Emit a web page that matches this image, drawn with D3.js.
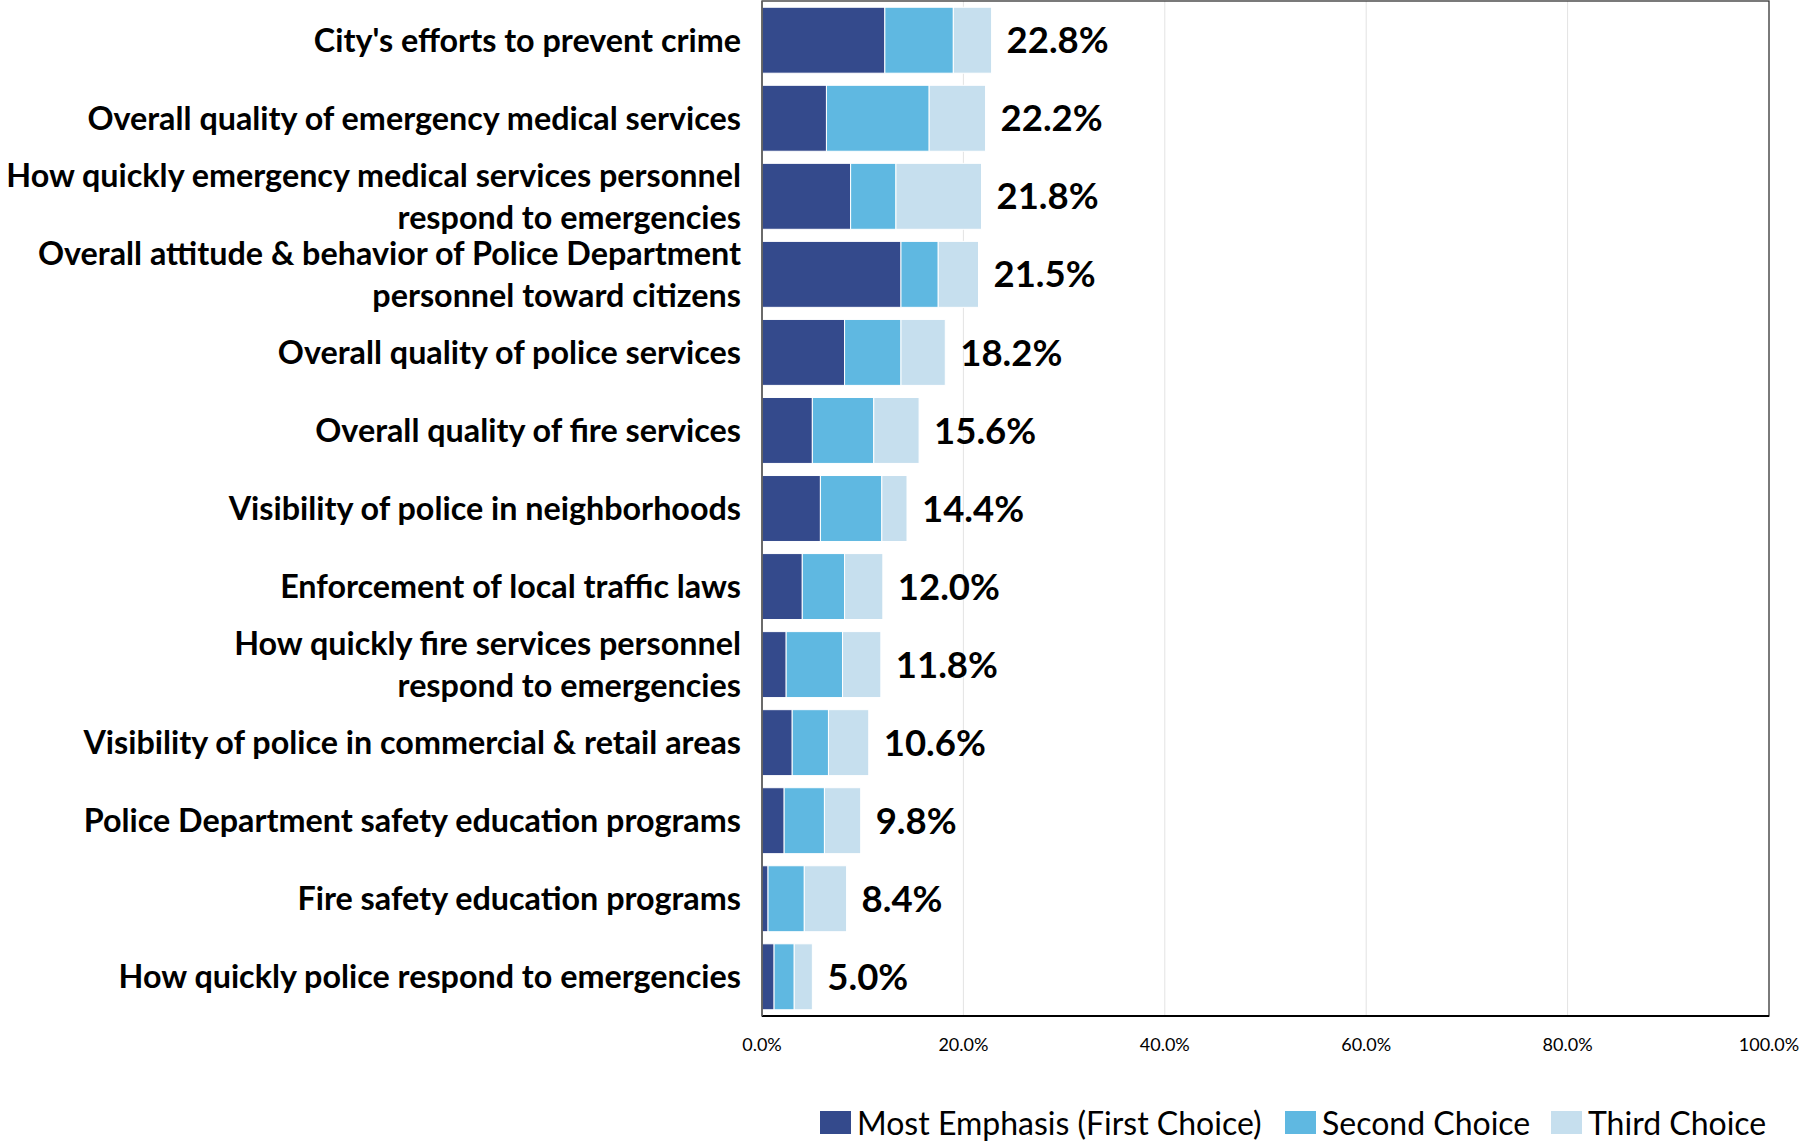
<!DOCTYPE html>
<html lang="en">
  <head>
    <meta charset="utf-8">
    <title>Emphasis on public safety services</title>
    <script src="https://d3js.org/d3.v7.min.js"></script>
    <style type="text/css">
      body { margin: 0; background: #fff; }
      text { font-family: Lato, "Open Sans", sans-serif; fill: #000; }
    </style>
  </head>
  <body>
    <div id="chart"></div>
    <script type="text/javascript">
      // categories, top to bottom
      var categories = [
        ["City's efforts to prevent crime"],
        ["Overall quality of emergency medical services"],
        ["How quickly emergency medical services personnel", "respond to emergencies"],
        ["Overall attitude & behavior of Police Department", "personnel toward citizens"],
        ["Overall quality of police services"],
        ["Overall quality of fire services"],
        ["Visibility of police in neighborhoods"],
        ["Enforcement of local traffic laws"],
        ["How quickly fire services personnel", "respond to emergencies"],
        ["Visibility of police in commercial & retail areas"],
        ["Police Department safety education programs"],
        ["Fire safety education programs"],
        ["How quickly police respond to emergencies"]
      ];
      var firstChoice  = [12.2, 6.4, 8.8, 13.8, 8.2, 5.0, 5.8, 4.0, 2.4, 3.0, 2.2, 0.6, 1.2];
      var secondChoice = [6.8, 10.2, 4.5, 3.7, 5.6, 6.1, 6.1, 4.2, 5.6, 3.6, 4.0, 3.6, 2.0];
      var thirdChoice  = [3.8, 5.6, 8.5, 4.0, 4.4, 4.5, 2.5, 3.8, 3.8, 4.0, 3.6, 4.2, 1.8];
      var totals = ["22.8%", "22.2%", "21.8%", "21.5%", "18.2%", "15.6%", "14.4%", "12.0%", "11.8%", "10.6%", "9.8%", "8.4%", "5.0%"];
      var seriesNames = ["Most Emphasis (First Choice)", "Second Choice", "Third Choice"];
      var colors = ["#344a8c", "#5fb8e1", "#c6dfee"];
      var ticks = [0, 20, 40, 60, 80, 100];

      var W = 1804, H = 1143;
      var pLeft = 762, pRight = 1769, pTop = 1, pBottom = 1016;

      var svg = d3.select("#chart").append("svg").attr("width", W).attr("height", H);

      var x = d3.scaleLinear().domain([0, 100]).range([pLeft, pRight]);
      var y = d3.scaleBand().domain(d3.range(categories.length)).range([pTop, pBottom]).paddingInner(0.155).paddingOuter(0.08);

      // gridlines
      svg.append("g").selectAll("line").data(ticks.slice(1, -1)).join("line")
        .attr("x1", d => x(d)).attr("x2", d => x(d))
        .attr("y1", pTop).attr("y2", pBottom)
        .attr("stroke", "#e3e3e3").attr("stroke-width", 1);

      var rows = categories.map(function (c, i) {
        return { i: i, vals: [firstChoice[i], secondChoice[i], thirdChoice[i]] };
      });
      var stack = d3.stack().keys([0, 1, 2]).value((d, k) => d.vals[k]);
      var layers = stack(rows);

      svg.append("g").selectAll("g").data(layers).join("g")
        .attr("fill", (d, k) => colors[k])
        .selectAll("rect").data(d => d).join("rect")
        .attr("x", d => x(d[0]))
        .attr("width", d => x(d[1]) - x(d[0]))
        .attr("y", d => y(d.data.i))
        .attr("height", y.bandwidth())
        .attr("stroke", "#fff").attr("stroke-width", 1);

      // border
      svg.append("rect").attr("x", pLeft).attr("y", pTop).attr("width", pRight - pLeft).attr("height", pBottom - pTop)
        .attr("fill", "none").attr("stroke", "#333").attr("stroke-width", 1.3);
      svg.append("line").attr("x1", pLeft).attr("x2", pRight).attr("y1", pBottom).attr("y2", pBottom)
        .attr("stroke", "#000").attr("stroke-width", 2);
      svg.append("line").attr("x1", pLeft).attr("x2", pLeft).attr("y1", pTop).attr("y2", pBottom)
        .attr("stroke", "#666").attr("stroke-width", 1.5);

      // total labels
      svg.append("g").selectAll("text").data(rows).join("text")
        .attr("x", d => x(d3.sum(d.vals)) + 15)
        .attr("y", d => y(d.i) + y.bandwidth() / 2)
        .attr("dy", "0.36em")
        .style("font-size", "36.5px").style("font-weight", "700")
        .text(d => totals[d.i]);

      // category labels
      var lab = svg.append("g").selectAll("text").data(categories).join("text")
        .attr("text-anchor", "end")
        .attr("x", 740)
        .attr("y", (d, i) => y(i) + y.bandwidth() / 2)
        .style("font-size", "32.3px").style("font-weight", "700");
      lab.each(function (lines) {
        var t = d3.select(this);
        var n = lines.length;
        lines.forEach(function (s, j) {
          t.append("tspan").attr("x", 741)
            .attr("dy", j === 0 ? ((0.36 - (n - 1) * 0.65) + "em") : "1.3em")
            .text(s);
        });
      });

      // x axis tick labels
      svg.append("g").selectAll("text").data(ticks).join("text")
        .attr("x", d => x(d)).attr("y", 1045).attr("dy", "0.36em")
        .attr("text-anchor", "middle")
        .style("font-size", "18px")
        .text(d => d.toFixed(1) + "%");

      // legend
      var legX = [820, 1285, 1551];
      var leg = svg.append("g").selectAll("g").data(seriesNames).join("g")
        .attr("transform", (d, i) => "translate(" + legX[i] + ",1111)");
      leg.append("rect").attr("width", 31).attr("height", 23).attr("fill", (d, i) => colors[i]);
      leg.append("text").attr("x", 37).attr("y", 12).attr("dy", "0.36em")
        .style("font-size", "32px").text(d => d);
    </script>
  </body>
</html>
